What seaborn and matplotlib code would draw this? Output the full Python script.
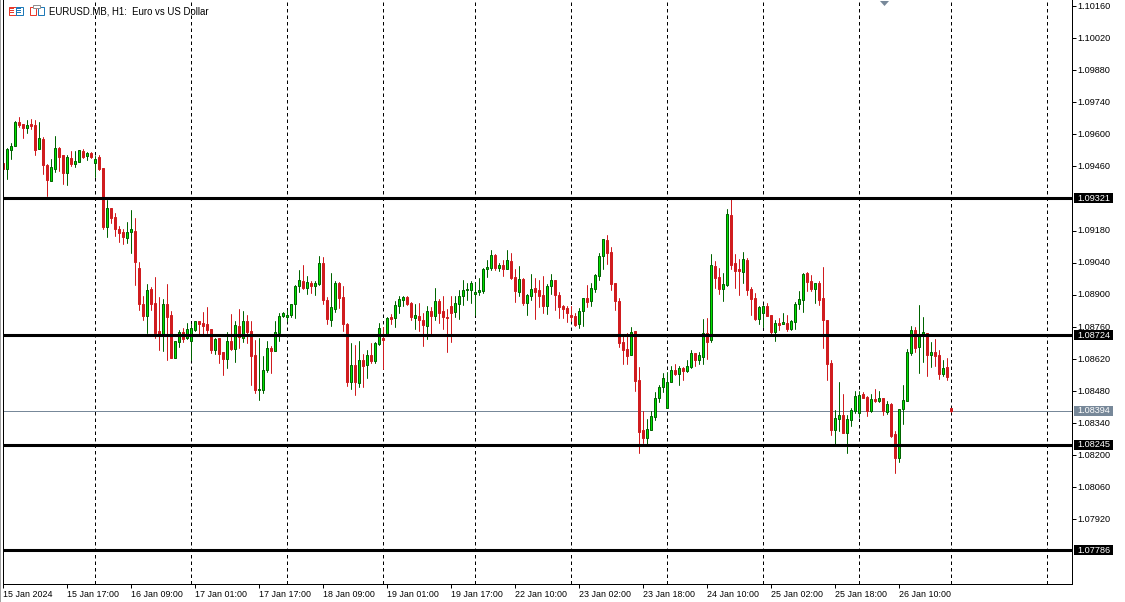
import numpy as np
import pandas as pd
import seaborn as sns
import matplotlib.pyplot as plt
from matplotlib.patches import Rectangle
from matplotlib.transforms import ScaledTranslation

# EURUSD.MB H1 candles, prices in points (1e-5)
opens = [
109474,109449,109532,109551,109653,109645,109628,109645,109641,109538,
109580,109467,109398,109449,109541,109510,109432,109497,109471,109480,
109528,109506,109519,109475,109501,109454,109196,109279,109240,109188,
109174,109148,109174,109179,109018,108861,108808,108926,108865,108743,
108725,108861,108813,108625,108695,108738,108712,108697,108748,108787,
108778,108774,108752,108660,108713,108652,108621,108700,108665,108765,
108713,108787,108743,108639,108486,108486,108573,108669,108656,108735,
108809,108804,108813,108861,108939,108961,108931,108953,108939,108948,
109040,108878,108791,108839,108953,108891,108774,108521,108595,108517,
108617,108595,108639,108612,108687,108713,108730,108804,108799,108852,
108878,108891,108865,108799,108808,108791,108764,108830,108808,108873,
108830,108804,108852,108825,108860,108895,108921,108921,108904,108913,
108917,109013,109017,109074,109017,109030,109013,109048,108978,108913,
108969,108865,108895,108930,108921,108900,108852,108939,108965,108900,
108852,108843,108813,108809,108774,108830,108887,108874,108926,108983,
109070,109140,109088,108953,108874,108695,108665,108639,108743,108530,
108312,108277,108312,108368,108451,108499,108408,108521,108573,108556,
108582,108569,108586,108647,108617,108630,108735,108704,109027,108979,
108926,108944,109249,109040,109014,109000,109053,108926,108887,108796,
108822,108852,108812,108738,108777,108773,108777,108751,108782,108860,
108878,108995,108960,108926,108952,108886,108790,108603,108311,108359,
108376,108298,108354,108394,108385,108468,108455,108394,108446,108437,
108450,108389,108424,108293,108189,108402,108437,108647,108747,108673,
108721,108734,108638,108651,108638,108555,108585,108407]
highs = [
109474,109539,109561,109658,109674,109645,109663,109667,109663,109654,
109589,109471,109493,109593,109545,109510,109510,109528,109528,109532,
109536,109523,109523,109506,109510,109454,109314,109279,109257,109201,
109188,109218,109270,109236,109044,108895,108948,108935,108978,108891,
108882,108948,108830,108699,108747,108756,108778,108774,108787,108787,
108826,108848,108752,108713,108713,108652,108739,108817,108787,108839,
108830,108813,108787,108704,108713,108634,108700,108678,108787,108822,
108826,108835,108861,108944,109009,109031,108983,108961,108961,109070,
109066,108891,108996,108961,108957,108939,108778,108691,108682,108700,
108643,108660,108691,108695,108778,108761,108804,108817,108873,108895,
108895,108895,108869,108860,108865,108821,108852,108847,108930,108882,
108895,108839,108895,108895,108921,108965,108952,108961,108956,108974,
109017,109052,109096,109078,109039,109052,109096,109083,109013,109026,
108974,108904,108990,108974,108965,108982,108948,108990,108965,108913,
108856,108852,108852,108822,108844,108887,108944,108953,108992,109083,
109144,109162,109109,108953,108887,108730,108735,108761,108743,108586,
108394,108360,108394,108477,108508,108560,108565,108591,108599,108591,
108586,108617,108660,108647,108652,108796,108800,109079,109048,109018,
108996,109275,109319,109079,109057,109088,109062,108935,108909,108852,
108857,108865,108812,108790,108799,108821,108812,108790,108869,108917,
108995,109000,108987,108952,108960,109021,108790,108616,108398,108520,
108468,108376,108407,108481,108481,108476,108459,108468,108490,108481,
108450,108437,108429,108306,108402,108507,108664,108764,108760,108856,
108803,108734,108694,108708,108660,108616,108625,108407]
lows = [
109449,109407,109493,109551,109632,109586,109606,109624,109510,109538,
109427,109331,109398,109436,109440,109384,109379,109462,109458,109480,
109497,109488,109497,109414,109445,109188,109153,109214,109157,109131,
109122,109127,109083,108943,108834,108791,108734,108834,108712,108660,
108656,108616,108625,108625,108673,108695,108708,108617,108743,108730,
108726,108735,108647,108643,108604,108551,108582,108660,108608,108669,
108695,108691,108508,108473,108442,108473,108564,108560,108656,108700,
108804,108787,108804,108800,108913,108926,108905,108909,108900,108944,
108861,108774,108765,108826,108844,108743,108503,108490,108464,108499,
108499,108538,108604,108604,108682,108578,108730,108773,108760,108821,
108852,108856,108791,108751,108743,108677,108708,108725,108791,108778,
108751,108651,108695,108804,108795,108856,108878,108865,108812,108900,
108908,108978,109009,109009,109004,108982,109013,108969,108869,108895,
108856,108812,108878,108795,108847,108821,108817,108904,108834,108799,
108799,108782,108787,108765,108756,108765,108848,108852,108913,108966,
109014,109035,108922,108835,108673,108599,108599,108639,108482,108211,
108255,108246,108312,108355,108434,108477,108408,108521,108551,108508,
108530,108565,108582,108591,108599,108599,108621,108695,108931,108905,
108874,108939,109014,108931,108900,108953,108900,108813,108791,108774,
108761,108809,108729,108699,108747,108773,108742,108747,108751,108838,
108825,108917,108917,108865,108856,108668,108529,108289,108250,108306,
108298,108211,108328,108385,108367,108450,108372,108389,108433,108433,
108376,108381,108280,108123,108171,108337,108437,108638,108651,108559,
108607,108546,108585,108590,108533,108546,108529,108389]
closes = [
109449,109535,109548,109653,109641,109628,109640,109637,109532,109584,
109467,109401,109456,109541,109501,109432,109501,109471,109484,109531,
109501,109519,109501,109491,109449,109196,109279,109236,109188,109170,
109153,109174,109188,109044,108861,108808,108922,108861,108734,108730,
108861,108804,108625,108699,108738,108708,108752,108756,108787,108774,
108765,108748,108660,108708,108643,108621,108700,108665,108769,108717,
108787,108739,108634,108486,108490,108573,108669,108656,108739,108809,
108822,108813,108861,108939,108966,108931,108957,108939,108953,109040,
108878,108796,108848,108953,108887,108774,108521,108595,108521,108617,
108591,108639,108612,108691,108756,108704,108800,108795,108856,108882,
108891,108860,108804,108812,108791,108769,108830,108808,108873,108821,
108804,108799,108821,108865,108895,108921,108926,108952,108913,108921,
109013,109022,109074,109017,109030,109013,109052,108974,108917,108969,
108865,108900,108926,108913,108895,108852,108939,108965,108900,108847,
108839,108821,108804,108769,108830,108887,108870,108931,108987,109070,
109144,109083,108948,108874,108691,108660,108634,108739,108525,108303,
108277,108316,108373,108451,108499,108538,108521,108573,108556,108582,
108569,108591,108647,108617,108639,108735,108695,109031,108974,108926,
108948,109253,109031,109005,109005,109057,108922,108883,108796,108848,
108852,108809,108738,108777,108769,108782,108751,108786,108860,108882,
108991,108956,108926,108952,108878,108790,108599,108311,108363,108376,
108298,108359,108398,108459,108463,108450,108394,108446,108437,108450,
108394,108424,108285,108189,108402,108442,108651,108747,108668,108725,
108738,108638,108651,108633,108555,108581,108542,108394]

time_labels = ["15 Jan 2024","15 Jan 17:00","16 Jan 09:00","17 Jan 01:00","17 Jan 17:00",
               "18 Jan 09:00","19 Jan 01:00","19 Jan 17:00","22 Jan 10:00","23 Jan 02:00",
               "23 Jan 18:00","24 Jan 10:00","25 Jan 02:00","25 Jan 18:00","26 Jan 10:00"]
time_bars = [0,16,32,48,64,80,96,112,128,144,160,176,192,208,224]
day_breaks = [23,47,71,95,118,142,166,190,214,237,261]
price_ticks = [1.10160,1.10020,1.09880,1.09740,1.09600,1.09460,1.09180,1.09040,1.08900,
               1.08760,1.08620,1.08480,1.08340,1.08200,1.08060,1.07920]
levels = [1.09321,1.08724,1.08245,1.07786]
last_price = 1.08394
marker_bar = 220.1

W, H = 1125, 602
RED = "#d01c1f"
GREEN = "#00e000"
DARK_GREEN = "#006400"
SLATE = "#778899"
YMIN, YMAX = 1.07638, 1.10186
AX_W, AX_H = 1069, 584

sns.set_style("white")
plt.rcParams['font.family'] = ['Liberation Sans', 'DejaVu Sans']

df = pd.DataFrame({"bar": np.arange(len(opens)), "open": opens, "high": highs, "low": lows, "close": closes})
df[["open", "high", "low", "close"]] /= 100000
df["side"] = np.where(df["close"] >= df["open"], "up", "down")
df["top"] = df[["open", "close"]].max(axis=1)
df["bottom"] = df[["open", "close"]].min(axis=1)
df["body"] = df["top"] - df["bottom"]

wicks = df.melt(id_vars=["bar", "side"], value_vars=["high", "low"], value_name="price")

fig = plt.figure(figsize=(W/100, H/100), dpi=100)
ax = fig.add_axes([3.1/W, (H-AX_H)/H, AX_W/W, AX_H/H])

for b in day_breaks:
    ax.axvline(b, color="black", lw=0.72, ls=(0, (3.5, 3)), zorder=0.5)
ax.axhline(last_price, color=SLATE, lw=0.72, zorder=0.6)

sns.lineplot(data=wicks, x="bar", y="price", units="bar", estimator=None, hue="side",
             palette={"up": DARK_GREEN, "down": RED}, lw=0.72, legend=False, ax=ax, zorder=1)

for side, fill, edge in [("up", GREEN, DARK_GREEN), ("down", RED, RED)]:
    part = df[df["side"] == side]
    sns.barplot(x=part["bar"].values, y=part["body"].values, bottom=part["bottom"].values,
                native_scale=True, orient="x", errorbar=None, width=0.5, saturation=1,
                color=fill, edgecolor=edge, linewidth=0.72, ax=ax, zorder=2)

for lv in levels:
    ax.axhline(lv, color="black", lw=2.2, zorder=3)

ax.plot([marker_bar], [YMAX-0.00013], marker=[(-4.5, 2.5), (4.5, 2.5), (0, -2.5)], ms=6.5, mew=0,
        color=SLATE, zorder=4)

ax.set_xlim(0, AX_W/4)
ax.set_ylim(YMIN, YMAX)
ax.set_xlabel("")
ax.set_ylabel("")

ax.yaxis.tick_right()
ax.set_yticks(price_ticks)
ax.set_yticklabels(["%.5f" % p for p in price_ticks])
ax.set_xticks(time_bars)
ax.set_xticklabels(time_labels, ha="left")
ax.tick_params(axis="both", length=3, width=0.72, color="black", labelcolor="black",
               left=False, right=True, bottom=True)
ax.tick_params(axis="y", labelsize=6.6, pad=0.8)
ax.tick_params(axis="x", labelsize=6.4, pad=1)
for lab in ax.get_yticklabels():
    lab.set_transform(lab.get_transform() + ScaledTranslation(0, 0.8/100, fig.dpi_scale_trans))

ax.spines["top"].set_visible(False)
for name in ["left", "right", "bottom"]:
    ax.spines[name].set_visible(True)
    ax.spines[name].set_color("black")
    ax.spines[name].set_linewidth(0.72)

# price tags on the right axis
tag_tf = ax.get_yaxis_transform()
tag_h = 10 / AX_H * (YMAX - YMIN)
for lv, col in [(v, "black") for v in levels] + [(last_price, SLATE)]:
    ax.add_patch(Rectangle((1 + 1.5/AX_W, lv - tag_h/2), 39/AX_W, tag_h, transform=tag_tf, fc=col, ec="none",
                           clip_on=False, zorder=5))
    ax.text(1 + 5.5/AX_W, lv, "%.5f" % lv, transform=tag_tf, color="white", fontsize=6.6, va="center", ha="left",
            clip_on=False, zorder=6)

# header: window edge, toolbar icons, symbol
def box(x, y, w, h, **kw):
    fig.add_artist(Rectangle((x/W, 1-(y+h)/H), w/W, h/H, transform=fig.transFigure, **kw))

box(0, 0, 1, H, fc="#a0a0a0", ec="none")
box(8.5, 6.5, 7, 8, fc="white", ec="#e8392b", lw=0.72)
box(15.5, 6.5, 7, 8, fc="white", ec="#1f7ab8", lw=0.72)
for yy in (8.5, 10.5, 12.5):
    box(10, yy, 4, 0.8, fc="#e8392b", ec="none")
    box(17, yy, 4, 0.8, fc="#1f7ab8", ec="none")
box(29.5, 6.5, 6, 8, fc="white", ec="#e8392b", lw=0.72)
box(37.5, 6.5, 6, 8, fc="white", ec="#1f7ab8", lw=0.72)
box(33, 5, 7, 3, fc="white", ec="#909090", lw=0.72)

fig.text(49/W, 1-11/H, "EURUSD.MB, H1:  Euro vs US Dollar", fontsize=6.9, color="black", va="center", ha="left")

fig.savefig("out.png", dpi=100)
